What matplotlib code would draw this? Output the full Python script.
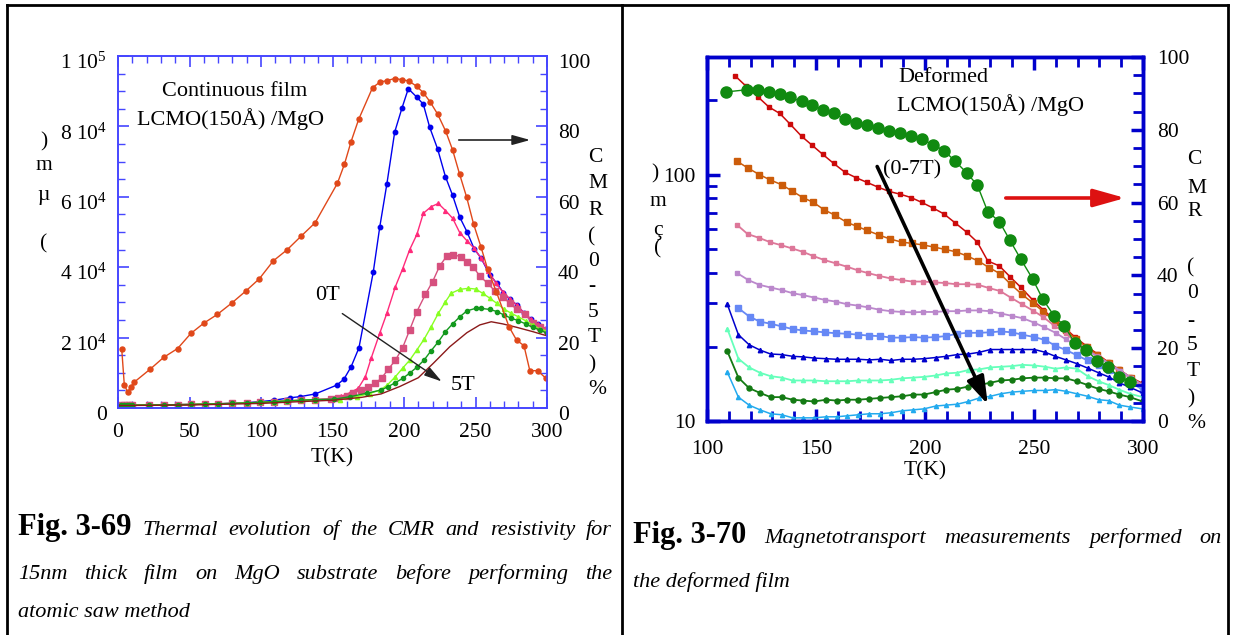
import numpy as np
import matplotlib
matplotlib.use("Agg")
import matplotlib.pyplot as plt
import matplotlib.transforms as mtransforms
from matplotlib.lines import Line2D
from matplotlib.ticker import MultipleLocator, LogLocator, NullFormatter

W, H = 1233, 635

# ---- Fig. 3-69 : continuous film ----
T_cmr0 = [2.6, 4.4, 6.8, 9.1, 11.2, 22.4, 32, 41.7, 51, 60, 69.5, 79.5, 89.3, 98.8, 108.6, 118.4,
          128, 137.8, 153.4, 158.3, 163, 168.3, 178, 183.2, 188, 193.4, 198.3, 203.4, 208.8, 213.5,
          218.2, 223.5, 229.1, 234, 238.9, 243.8, 248.7, 253.8, 258.5, 264.6, 273.4, 278.7, 283.9,
          288, 293.5, 299.3]
cmr0 = [16.8, 6.6, 4.5, 6.1, 7.3, 11, 14.4, 16.9, 21.2, 24.1, 26.6, 29.8, 33.2, 36.7, 41.8, 45.0,
        48.8, 52.6, 63.8, 69.2, 75.7, 82, 91, 92.6, 93, 93.6, 93.3, 92.9, 91.4, 89.6,
        87, 83.5, 78.7, 73.3, 66.4, 59.9, 52.2, 45.8, 39.4, 33, 23.1, 19.3, 17.7,
        10.6, 10.6, 8.4]

T_low = [2, 4, 6, 8, 10, 22, 32, 42, 51, 61, 70, 80, 90, 99, 109, 118, 128, 138]
rho_low = [0.8, 0.8, 0.8, 0.8, 0.8, 0.85, 0.9, 0.95, 1.0, 1.1, 1.2, 1.3, 1.45, 1.6, 1.8, 2.0, 2.2, 2.4]

T_0T = T_low[:15] + [120, 127, 138, 153, 158, 163, 168.5, 178.5, 183, 188, 193.5, 198.5, 203, 209,
                     213.5, 218, 223.5, 229, 234, 239, 244, 249, 254, 260, 265, 269.5, 274, 279,
                     284, 289, 294, 299]
rho_0T = [0.8, 0.8, 0.8, 0.8, 0.8, 0.85, 0.9, 0.95, 1.0, 1.1, 1.2, 1.35, 1.5, 1.8, 2.2,
          2.9, 3.2, 4.0, 6.5, 8.2, 11.7, 17.1, 38.6, 51.3, 63.6, 78.4, 85.1, 90.7, 88.3,
          86.3, 79.7, 73.6, 65.7, 60.4, 54.2, 50.1, 45.3, 42.5, 37.8, 35.4, 32.8, 30.9, 29.3,
          26.9, 25.2, 23.9, 22.4]

T_1T = T_low + [150, 156, 162, 168, 173, 177, 183, 188, 194, 199, 204, 209, 213.5, 219, 224, 229,
                234, 239, 244, 249, 254, 259, 264, 269, 274, 279, 284, 289, 294, 299]
rho_1T = rho_low + [2.6, 3.3, 4.3, 5.6, 8.9, 14.1, 21.2, 26.9, 34.5, 39.5, 45.0, 49.3, 55.3, 57.2,
                    58.1, 56.1, 53.9, 49.8, 47.5, 45.4, 42.5, 39.0, 35.6, 33.0, 31.0, 29.2, 27.0,
                    25.2, 23.8, 22.3]

T_2T = T_low + [149, 154, 160, 164.5, 170, 175, 180, 184.5, 189, 194, 199, 204, 209, 215, 220, 225,
                230, 234.5, 240, 244, 248.5, 253, 258.5, 263.5, 269, 274, 279, 284.5, 290, 295, 300]
rho_2T = rho_low + [2.6, 2.9, 3.5, 4.2, 5.1, 6.1, 7.0, 8.6, 11.0, 13.6, 17.1, 22.2, 27.4, 32.3, 35.9,
                    40.4, 43.2, 43.5, 43.0, 41.6, 40.0, 37.5, 35.4, 33.3, 31.6, 29.7, 28.0, 26.6,
                    24.2, 23.1, 22.2]

T_3T = T_low + [155, 167, 176, 183, 188, 194, 199, 204, 209, 214, 219, 224, 229, 233, 239, 245,
                250, 255, 260, 265, 270, 275, 280, 285, 290, 295, 300]
rho_3T = rho_low + [2.3, 3.2, 4.1, 5.1, 6.4, 8.9, 11.3, 13.6, 16.5, 19.5, 23.1, 26.9, 30.2, 32.6,
                    33.7, 34.0, 33.8, 32.6, 31.2, 29.7, 28.1, 26.9, 25.9, 24.8, 23.6, 22.4, 21.9]

T_4T = T_low + [151, 162, 174, 184, 189, 194, 199, 204, 209, 214, 219, 224, 229, 234, 239, 244,
                250, 254, 260, 265, 270, 275, 280, 285, 290, 295, 300]
rho_4T = rho_low + [2.5, 3.2, 4.2, 5.1, 6.1, 7.2, 8.4, 9.9, 11.6, 13.6, 16.3, 18.8, 21.7, 23.9,
                    25.9, 27.6, 28.3, 28.3, 28.0, 27.4, 26.4, 25.5, 24.8, 23.9, 22.9, 22.2, 21.2]

T_5T = [0, 20, 50, 100, 127, 150, 170, 184, 197, 210, 220.5, 232, 244, 253, 261, 269, 279, 290, 300]
rho_5T = [0.7, 0.75, 0.85, 1.3, 1.8, 2.2, 3.0, 4.0, 6.1, 8.6, 12.7, 17.4, 21.4, 23.6, 24.5, 23.9,
          22.9, 21.7, 20.5]

rho_ticks = [0, 20000, 40000, 60000, 80000, 100000]
rho_labels = ["0", "2 10$^4$", "4 10$^4$", "6 10$^4$", "8 10$^4$", "1 10$^5$"]

# ---- Fig. 3-70 : deformed film ----
T_cmr_d = [108.7, 118.2, 123.3, 128.4, 133.4, 138.1, 143.4, 148, 153.2, 158.1, 163.4, 168.3, 173.2,
           178.4, 183.6, 188.5, 193.6, 198.5, 203.8, 208.7, 213.8, 219.1, 224, 228.8, 234.1, 239,
           243.9, 249.4, 254, 259.2, 263.8, 268.8, 273.9, 279.1, 284.1, 289, 294]
cmr_d = [90.4, 91, 90.9, 90.4, 89.8, 88.9, 87.8, 86.8, 85.5, 84.5, 82.9, 82, 81.3,
         80.4, 79.7, 79.1, 78.3, 77.4, 75.9, 74.3, 71.4, 68.2, 64.8, 57.5, 54.8, 49.6,
         44.5, 39, 33.5, 28.9, 26.2, 21.4, 19.6, 16.5, 14.8, 12.2, 10.8]

T_d0 = [112.8, 118, 123.3, 128.4, 133.4, 138.2, 143.4, 148, 153, 158.1, 163.4, 168.3, 173.2, 178.5,
        183.6, 188.5, 193.6, 198.5, 203.8, 208.7, 213.8, 219.1, 224, 228.8, 234.1, 239, 243.9,
        249.4, 254.3, 259.2, 263.8, 268.8, 273.9, 279.1, 284.1, 289, 294, 299.8]
r_d0 = [252, 228, 207, 188, 177, 160, 143, 132, 121, 111, 102, 97.2, 93.1, 88.9,
        85.4, 83.3, 80.7, 77.1, 73.1, 69.2, 63.7, 58.4, 53.2, 44.6, 42.6, 38.5, 34.9,
        31, 28.2, 25.9, 24, 21.9, 20.2, 18.7, 17.3, 16.2, 15.1, 14.2]

T_d1 = [113.6, 119, 124, 128.9, 134.3, 138.9, 143.9, 148.8, 153.7, 158.7, 164.1, 168.9, 173.5, 179,
        183.9, 189.3, 193.9, 199.2, 204.1, 209.2, 214.2, 219.4, 224.4, 229.5, 234.4, 239.3, 244.4,
        249.7, 254.3, 259.6, 264.5, 269.1, 274.1, 279, 284.4, 289.1, 294.4, 299.8]
r_d1 = [113.5, 106, 100, 95.2, 90.9, 85.9, 80.7, 77.1, 72, 68.4, 64, 61.6, 59.3, 56.8,
        54.8, 53.2, 52.6, 51.8, 50.8, 49.7, 48.6, 46.7, 44.6, 41.9, 39.6, 35.9, 32.7,
        30, 27.8, 25.3, 23.5, 21.5, 20, 18.5, 17.2, 16.1, 15, 14]

T_d2 = [113.6, 118.6, 124, 128.9, 134, 138.9, 143.9, 148.8, 153.8, 159.2, 164.1, 169.1, 174, 179,
        184.2, 189.3, 194.3, 199.2, 204.8, 209.2, 214.2, 219.1, 224.4, 229.5, 234.4, 239.3, 244.4,
        249.7, 254.3, 259.2, 264.5, 269.1, 274.1, 279, 284.4, 289.1, 294.4, 299.8]
r_d2 = [62.7, 57.4, 55.3, 53.2, 51.7, 50.2, 48.6, 46.7, 45, 43.6, 42.3, 40.9, 39.8, 38.8,
        37.9, 37.3, 36.8, 36.8, 36.5, 36.3, 35.9, 35.9, 35.7, 34.6, 33.7, 31.7, 29.8,
        28, 26.4, 24.4, 22.7, 20.9, 19.6, 18.3, 17.1, 15.9, 14.9, 13.8]

T_d3 = [113.9, 119, 124, 129.2, 134.3, 139.3, 144.2, 149.1, 154.1, 159.2, 164.1, 169.1, 174, 179,
        184.2, 189.3, 194.3, 199.2, 204.8, 209.8, 214.7, 219.7, 224.9, 229.9, 235, 239.9, 245,
        249.9, 254.8, 259.9, 264.5, 269.6, 274.4, 279.5, 284.6, 289.5, 294.5, 299.8]
r_d3 = [39.8, 37.3, 35.7, 34.8, 34, 33, 32.4, 31.7, 31, 30.5, 29.8, 29.4, 28.9, 28.3,
        27.9, 27.7, 27.6, 27.7, 27.7, 27.9, 27.9, 28.1, 28.1, 27.9, 27.3, 26.7, 26.1,
        25.1, 24, 22.8, 21.5, 20.2, 19.3, 18.2, 17.1, 16, 15, 14]

T_d4 = [114.4, 119.5, 124.3, 129.4, 134.3, 139.3, 144.2, 149.2, 154.1, 159.2, 164.4, 169.4, 174.5,
        179.4, 184.4, 189.6, 194.6, 199.5, 204.6, 209.5, 214.6, 219.7, 224.8, 229.8, 234.7, 239.8,
        244.7, 250.2, 255.2, 259.8, 264.7, 269.6, 274.6, 279.6, 284.2, 289.1, 294, 299.8]
r_d4 = [28.7, 26.5, 25.3, 24.8, 24.2, 23.6, 23.3, 23.1, 22.9, 22.7, 22.6, 22.4, 22.2,
        22.1, 21.8, 21.8, 21.9, 21.8, 21.9, 22.1, 22.6, 22.8, 22.8, 22.9, 23.1, 22.9,
        22.4, 21.9, 21.3, 20.2, 19.4, 18.5, 17.6, 16.8, 16.1, 15.2, 14.4, 13.4]

T_d5 = [109.3, 114.4, 119.3, 124.3, 129.2, 134.3, 139.3, 144.2, 149.2, 154.6, 159.5, 164.4, 169.4,
        174.5, 179.4, 184.4, 189.6, 194.6, 199.5, 204.9, 209.8, 214.8, 219.9, 224.9, 230, 234.8,
        239.9, 244.7, 250.2, 255.2, 259.8, 264.7, 269.6, 274.6, 279.6, 284.2, 289.1, 294, 299.8]
r_d5 = [29.8, 22.4, 20.4, 19.4, 18.7, 18.6, 18.3, 18.2, 18, 17.9, 17.8, 17.8, 17.8,
        17.7, 17.8, 17.6, 17.8, 17.8, 17.9, 18.1, 18.3, 18.6, 18.7, 19, 19.5, 19.5,
        19.5, 19.5, 19.5, 19, 18.3, 17.7, 17.1, 16.4, 15.7, 15.1, 14.3, 13.7, 13]
r_d6 = [23.7, 17.9, 16.5, 15.7, 15.2, 15, 14.6, 14.6, 14.6, 14.5, 14.5, 14.5, 14.6,
        14.6, 14.6, 14.7, 14.9, 15, 15.1, 15.3, 15.6, 15.7, 16.1, 16.2, 16.5, 16.6,
        16.7, 16.9, 16.8, 16.6, 16.3, 16.5, 16.3, 15.2, 14.5, 14, 13.4, 12.9, 12.5]
r_d7 = [19.2, 15, 13.6, 13, 12.5, 12.5, 12.2, 12.1, 12, 12.2, 12.1, 12.2, 12.2,
        12.3, 12.4, 12.5, 12.6, 12.8, 12.8, 13.1, 13.4, 13.5, 13.8, 14, 14.3, 14.6,
        14.7, 14.9, 15, 15, 14.9, 14.9, 14.5, 14, 13.5, 13.2, 12.8, 12.5, 12]
r_d8 = [15.8, 12.5, 11.6, 11.1, 10.7, 10.6, 10.3, 10.3, 10.3, 10.4, 10.4, 10.5, 10.6,
        10.7, 10.7, 10.8, 11, 11.1, 11.2, 11.5, 11.6, 11.7, 12, 12.4, 12.6, 12.9,
        13.1, 13.2, 13.3, 13.3, 13.4, 13.2, 12.9, 12.6, 12.2, 12.1, 11.6, 11.4, 11.2]

cap_left = [["Thermal", "evolution", "of", "the", "CMR", "and", "resistivity", "for"],
            ["15nm", "thick", "film", "on", "MgO", "substrate", "before", "performing", "the"],
            ["atomic saw method"]]
cap_right = [["Magnetotransport", "measurements", "performed", "on"],
             ["the deformed film"]]


def fx(x):
    return x / W


def fy(y):
    return 1 - y / H


plt.rcParams['font.family'] = ['Liberation Serif', 'DejaVu Serif']
plt.rcParams['mathtext.fontset'] = 'custom'
plt.rcParams['mathtext.rm'] = 'Liberation Serif'
plt.rcParams['mathtext.it'] = 'Liberation Serif:italic'
FS = 15.5

fig = plt.figure(figsize=(W / 100, H / 100), dpi=100)

# table frame
for x0, y0, x1, y1 in [(7, 5, 1228, 5), (7, 5, 7, 635), (622, 5, 622, 635), (1228, 5, 1228, 635)]:
    fig.add_artist(Line2D([fx(x0), fx(x1)], [fy(y0), fy(y1)], transform=fig.transFigure,
                          color='black', lw=2))


def stack(chars, x, ys, ha='center', **kw):
    for c, y in zip(chars, ys):
        fig.text(fx(x), fy(y), c, ha=ha, va='center', fontsize=FS, **kw)


def arrow(x0, y0, x1, y1, color, lw, head):
    fig.add_artist(matplotlib.patches.FancyArrowPatch(
        (fx(x0), fy(y0)), (fx(x1), fy(y1)), transform=fig.transFigure,
        arrowstyle=head, color=color, lw=lw, mutation_scale=12))


# ---------------- left panel ----------------
c1 = '#4646ff'
ax1 = fig.add_axes([fx(118), fy(408), (547 - 118) / W, (408 - 56) / H])
ax1r = ax1.twinx()
ax1.set_xlim(0, 300)
ax1.set_ylim(0, 100000)
ax1r.set_ylim(0, 100)

ax1.plot(T_0T, np.array(rho_0T) * 1000, '-o', color='#0000ee', ms=3.2, lw=1)
ax1.plot(T_1T, np.array(rho_1T) * 1000, '-^', color='#ff2a7a', ms=2.8, lw=1)
ax1.plot(T_2T, np.array(rho_2T) * 1000, '-s', color='#d6507e', ms=4.5, lw=1)
ax1.plot(T_3T, np.array(rho_3T) * 1000, '-^', color='#88ff22', ms=3, lw=1)
ax1.plot(T_4T, np.array(rho_4T) * 1000, '-o', color='#13991d', ms=3, lw=1)
ax1.plot(T_5T, np.array(rho_5T) * 1000, '-', color='#8b1a1a', lw=1)
ax1r.plot(T_cmr0, cmr0, '-o', color='#e0481a', ms=3.6, lw=1)

for a in (ax1, ax1r):
    for s in a.spines.values():
        s.set_color(c1)
        s.set_linewidth(1.2)
ax1.xaxis.set_major_locator(MultipleLocator(50))
ax1.xaxis.set_minor_locator(MultipleLocator(10))
ax1.yaxis.set_minor_locator(MultipleLocator(5000))
ax1.set_yticks(rho_ticks, rho_labels)
ax1r.yaxis.set_major_locator(MultipleLocator(20))
ax1r.yaxis.set_minor_locator(MultipleLocator(5))
ax1.tick_params(axis='x', which='both', direction='in', top=True, bottom=True, color=c1,
                labelsize=FS, pad=10.5)
ax1.tick_params(axis='y', which='both', direction='in', left=True, right=False, color=c1,
                labelsize=FS, pad=8)
ax1.tick_params(which='major', length=8, width=1.2)
ax1.tick_params(which='minor', length=5, width=1)
ax1r.tick_params(axis='y', which='both', direction='in', color=c1, labelsize=FS, pad=8)
ax1r.tick_params(which='major', length=8, width=1.2)
ax1r.tick_params(which='minor', length=5, width=1)
shift = mtransforms.ScaledTranslation(0, -5 / 100, fig.dpi_scale_trans)
for lab in ax1.get_yticklabels() + ax1r.get_yticklabels():
    lab.set_transform(lab.get_transform() + shift)
ax1.set_xlabel("T(K)", fontsize=FS, labelpad=5)

fig.text(fx(235), fy(92), "Continuous film", ha='center', va='center', fontsize=16)
fig.text(fx(230), fy(119), "LCMO(150Å) /MgO", ha='center', va='center', fontsize=16)
fig.text(fx(327), fy(295), "0T", ha='center', va='center', fontsize=16)
fig.text(fx(463), fy(385), "5T", ha='center', va='center', fontsize=16)
arrow(456, 140, 533, 140, '#222222', 1.2, '-|>,head_width=0.25,head_length=0.9')
arrow(340, 312, 444, 383, '#222222', 1.0, '-|>,head_width=0.25,head_length=0.9')

stack([")", "m", "µ", "("], 44, [142, 165, 196, 244])
stack(list("CMR(0-5T)%"), 588, [158, 183, 210, 237, 262, 287, 313, 338, 365, 390], ha='left')

# ---------------- right panel ----------------
c2 = '#0000cc'
ax2 = fig.add_axes([fx(707), fy(421), (1143 - 707) / W, (421 - 57) / H])
ax2r = ax2.twinx()
ax2.set_xlim(100, 300)
ax2.set_yscale('log')
ax2.set_ylim(10, 300)
ax2r.set_ylim(0, 100)

ax2.plot(T_d0, r_d0, '-s', color='#cc0a0a', ms=3.2, lw=1.1)
ax2.plot(T_d1, r_d1, '-s', color='#cc5c0a', ms=4.8, lw=1.1)
ax2.plot(T_d2, r_d2, '-s', color='#dd7799', ms=3.2, lw=1.3)
ax2.plot(T_d3, r_d3, '-s', color='#bb88cc', ms=3.2, lw=1.3)
ax2.plot(T_d4, r_d4, '-s', color='#6688f5', ms=4.8, lw=1.3)
ax2.plot(T_d5, r_d5, '-^', color='#0000cc', ms=3.2, lw=1.1)
ax2.plot(T_d5, r_d6, '-^', color='#66ffbb', ms=3, lw=1.3)
ax2.plot(T_d5, r_d7, '-o', color='#137a13', ms=3.6, lw=1.3)
ax2.plot(T_d5, r_d8, '-^', color='#22aaee', ms=3, lw=1.1)
ax2r.plot(T_cmr_d, cmr_d, '-o', color='#108a10', ms=8, lw=1)

for a in (ax2, ax2r):
    for s in a.spines.values():
        s.set_color(c2)
        s.set_linewidth(2.5)
ax2.xaxis.set_major_locator(MultipleLocator(50))
ax2.xaxis.set_minor_locator(MultipleLocator(10))
ax2.yaxis.set_major_locator(LogLocator(base=10))
ax2.yaxis.set_minor_locator(LogLocator(base=10, subs=np.arange(2, 10)))
ax2.yaxis.set_minor_formatter(NullFormatter())
ax2.set_yticks([10, 100], ["10", "100"])
ax2r.yaxis.set_major_locator(MultipleLocator(20))
ax2r.yaxis.set_minor_locator(MultipleLocator(5))
ax2.tick_params(axis='x', which='both', direction='in', top=True, bottom=True, color=c2,
                labelsize=FS, pad=14)
ax2.tick_params(axis='y', which='both', direction='in', left=True, right=False, color=c2,
                labelsize=FS, pad=8.5)
ax2.tick_params(which='major', length=9, width=2.5)
ax2.tick_params(which='minor', length=7, width=2)
ax2r.tick_params(axis='y', which='both', direction='in', color=c2, labelsize=FS, pad=10)
ax2r.tick_params(which='major', length=9, width=2.5)
ax2r.tick_params(which='minor', length=7, width=2)
ax2.set_xlabel("T(K)", fontsize=FS, labelpad=1)

fig.text(fx(898), fy(77), "Deformed", ha='left', va='center', fontsize=16)
fig.text(fx(897), fy(105), "LCMO(150Å) /MgO", ha='left', va='center', fontsize=16)
fig.text(fx(883), fy(170), "(0-7T)", ha='left', va='center', fontsize=16)
arrow(876, 164, 989, 407, 'black', 2.6, '-|>,head_width=0.45,head_length=1.4')
arrow(1003, 198, 1128, 198, '#dd1111', 2.6, '-|>,head_width=0.45,head_length=1.6')

fig.text(fx(658), fy(174), ")", ha='right', va='center', fontsize=FS)
stack(["m", "ç", "("], 658, [202, 230, 249])
stack(list("CMR(0-5T)%"), 1187, [160, 188, 212, 268, 294, 322, 346, 371, 399, 424], ha='left')

# ---------------- captions ----------------
renderer = fig.canvas.get_renderer()
bold = dict(fontsize=22, fontweight='bold')
ital = dict(fontsize=16, fontstyle='italic')


def put_line(parts, x0, y, x1=None):
    texts = [fig.text(0, 0, s, ha='left', va='baseline', **kw) for s, kw in parts]
    widths = [t.get_window_extent(renderer).width for t in texts]
    gap = 0 if x1 is None or len(texts) < 2 else (x1 - x0 - sum(widths)) / (len(texts) - 1)
    x = x0
    for t, w in zip(texts, widths):
        t.set_position((fx(x), fy(y)))
        x += w + gap


put_line([("Fig. 3-69", bold)] + [(w, ital) for w in cap_left[0]], 18, 535, 612)
put_line([(w, ital) for w in cap_left[1]], 18, 579, 612)
put_line([(w, ital) for w in cap_left[2]], 18, 617)
put_line([("Fig. 3-70", bold)] + [(w, ital) for w in cap_right[0]], 633, 543, 1222)
put_line([(w, ital) for w in cap_right[1]], 633, 587)

fig.savefig("out.png", dpi=100)
